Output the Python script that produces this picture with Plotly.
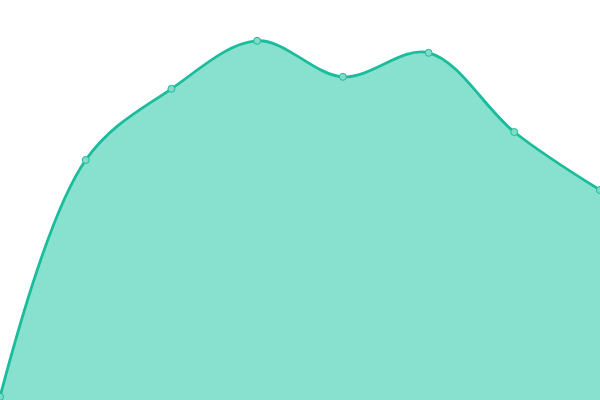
import plotly.graph_objects as go

# index of each point along the curve
steps = [0, 1, 2, 3, 4, 5, 6, 7]
# values (y axis runs 0..100)
values = [0.8, 60, 77.8, 89.8, 80.8, 86.8, 67, 52.5]

line_color = '#1abc9c'

fig = go.Figure()
fig.add_trace(go.Scatter(
    x=steps, y=values,
    mode='lines+markers',
    fill='tozeroy',
    fillcolor='#88e0cf',
    line=dict(color=line_color, width=2.8, shape='spline', smoothing=1),
    marker=dict(size=7, color='#7fdcc6', line=dict(color=line_color, width=1)),
    cliponaxis=False,
    hoverinfo='skip',
))

fig.update_layout(
    width=600, height=400,
    margin=dict(l=0, r=0, t=0, b=0),
    paper_bgcolor='white', plot_bgcolor='white',
    showlegend=False,
    xaxis=dict(range=[0, 7], visible=False, fixedrange=True),
    yaxis=dict(range=[0, 100], visible=False, fixedrange=True),
)

# drop the browser's default body margin so the chart fills the window
fig.write_html("out.html", config={'displayModeBar': False},
               post_script="document.body.style.margin='0';")
